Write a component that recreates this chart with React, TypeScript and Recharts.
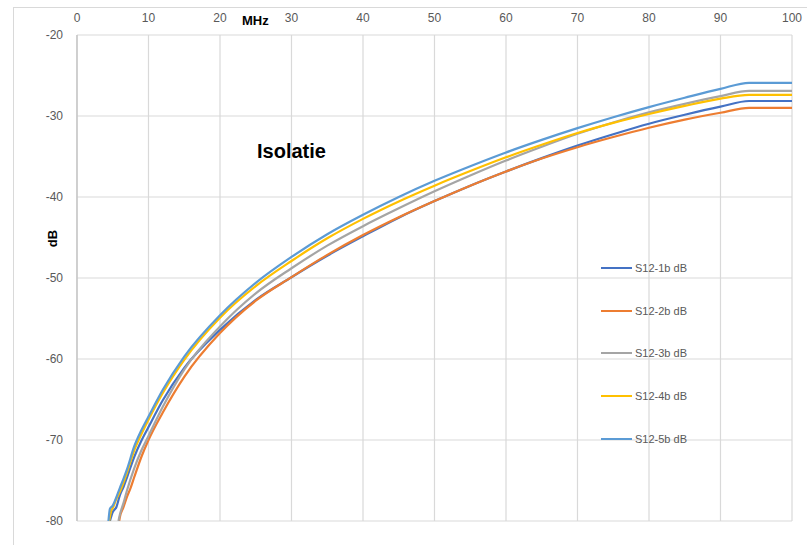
import React from "react";
import { LineChart, Line, XAxis, YAxis, CartesianGrid } from "recharts";

const xTicks = [0, 10, 20, 30, 40, 50, 60, 70, 80, 90, 100];
const yTicks = [-80, -70, -60, -50, -40, -30, -20];

const seriesNames = ["S12-1b dB", "S12-2b dB", "S12-3b dB", "S12-4b dB", "S12-5b dB"];
const seriesColors = ["#4472C4", "#ED7D31", "#A5A5A5", "#FFC000", "#5B9BD5"];

const s1Freq = [4.6, 5, 5.5, 6, 6.5, 7, 8, 9, 10, 12, 15, 20, 25, 30, 35, 40, 45, 50, 55, 60, 65, 70, 75, 80, 85, 90, 94, 100];
const s1Vals = [-80, -78.9, -78.3, -76.8, -75.8, -74.6, -72.1, -70.1, -68.4, -65.1, -61.1, -56.4, -52.7, -49.9, -47.25, -44.85, -42.55, -40.5, -38.6, -36.85, -35.2, -33.65, -32.25, -30.95, -29.85, -28.85, -28.15, -28.15];

const s2Freq = [5.9, 6, 6.5, 7, 7.5, 8, 9, 10, 12, 15, 20, 25, 30, 35, 40, 45, 50, 55, 60, 65, 70, 75, 80, 85, 90, 94, 100];
const s2Vals = [-80, -79.5, -78.3, -77, -75.9, -74.6, -72.1, -70, -66.6, -62.2, -56.8, -52.8, -49.9, -47.15, -44.7, -42.5, -40.5, -38.6, -36.85, -35.25, -33.85, -32.6, -31.45, -30.45, -29.6, -29, -29];

const s3Freq = [5.8, 6, 6.5, 7, 8, 9, 10, 12, 15, 20, 25, 30, 35, 40, 45, 50, 55, 60, 65, 70, 75, 80, 85, 90, 94, 100];
const s3Vals = [-80, -79.2, -77.8, -76.2, -73.5, -71.3, -69.5, -65.9, -61.3, -56, -51.9, -48.8, -46, -43.6, -41.4, -39.3, -37.35, -35.5, -33.8, -32.2, -30.8, -29.55, -28.5, -27.55, -26.9, -26.9];

const s4Freq = [4.5, 4.8, 5, 5.5, 6, 7, 8, 9, 10, 12, 15, 20, 25, 30, 35, 40, 45, 50, 55, 60, 65, 70, 75, 80, 85, 90, 94, 100];
const s4Vals = [-80, -78.7, -78.4, -77.3, -76.4, -74, -71.3, -69.3, -67.5, -64.2, -60.1, -54.9, -51, -47.9, -45.1, -42.7, -40.55, -38.6, -36.8, -35.1, -33.55, -32.1, -30.85, -29.75, -28.75, -27.85, -27.4, -27.4];

const s5Freq = [4.4, 4.6, 5, 5.4, 6, 6.5, 7, 8, 9, 10, 12, 15, 20, 25, 30, 35, 40, 45, 50, 55, 60, 65, 70, 75, 80, 85, 90, 94, 100];
const s5Vals = [-80, -78.5, -78.1, -77.3, -75.9, -74.8, -73.6, -70.8, -68.8, -67.1, -63.8, -59.7, -54.6, -50.6, -47.4, -44.6, -42.2, -40, -38, -36.2, -34.5, -32.95, -31.5, -30.15, -28.9, -27.75, -26.65, -25.9, -25.9];

const freqs = [s1Freq, s2Freq, s3Freq, s4Freq, s5Freq];
const vals = [s1Vals, s2Vals, s3Vals, s4Vals, s5Vals];

const seriesData = freqs.map((fs, i) => fs.map((f, j) => ({ f, v: vals[i][j] })));

const FONT = "'Liberation Sans', Arial, sans-serif";
const tickStyle = { fontSize: 12, fill: "#595959", fontFamily: FONT };

const LegendBox = () => (
  <div style={{ position: "absolute", left: 601, top: 262, width: 120, height: 200 }}>
    {seriesNames.map((n, i) => (
      <div
        key={n}
        style={{
          position: "absolute",
          left: 0,
          top: i * 42.7,
          display: "flex",
          alignItems: "center",
          height: 12,
        }}
      >
        <div style={{ width: 31, height: 2, background: seriesColors[i] }} />
        <span style={{ marginLeft: 3, fontSize: 11, color: "#595959", fontFamily: FONT, lineHeight: "12px", whiteSpace: "nowrap" }}>{n}</span>
      </div>
    ))}
  </div>
);

export default function App() {
  return (
    <div style={{ position: "absolute", left: 0, top: 0, width: 807, height: 545, background: "#fff", overflow: "hidden" }}>
      <div
        style={{
          position: "absolute",
          left: 13,
          top: 7,
          width: 900,
          height: 700,
          borderLeft: "1px solid #d9d9d9",
          borderTop: "1px solid #d9d9d9",
        }}
      />
      <div style={{ position: "absolute", left: 0, top: 0 }}>
        <LineChart width={807} height={545} margin={{ top: 10, right: 15, bottom: 24, left: 27 }}>
          <CartesianGrid stroke="#d9d9d9" strokeWidth={1.2} />
          <XAxis
            dataKey="f"
            type="number"
            orientation="top"
            domain={[0, 100]}
            ticks={xTicks}
            height={25}
            axisLine={false}
            tickLine={false}
            tickMargin={7}
            tick={tickStyle}
            allowDataOverflow
          />
          <YAxis
            type="number"
            domain={[-80, -20]}
            ticks={yTicks}
            width={50}
            axisLine={{ stroke: "#bfbfbf", strokeWidth: 1.2 }}
            tickLine={false}
            tickMargin={8}
            tick={tickStyle}
            allowDataOverflow
          />
          {seriesData.map((d, i) => (
            <Line
              key={seriesNames[i]}
              data={d}
              dataKey="v"
              name={seriesNames[i]}
              stroke={seriesColors[i]}
              strokeWidth={2.2}
              dot={false}
              activeDot={false}
              type="monotone"
              isAnimationActive={false}
            />
          ))}
        </LineChart>
      </div>
      <LegendBox />
      <svg width={807} height={545} style={{ position: "absolute", left: 0, top: 0, pointerEvents: "none" }}>
        <text x={257} y={158} fontSize={20} fontWeight="bold" fontFamily={FONT} fill="#000">
          Isolatie
        </text>
        <text x={242} y={25} fontSize={13} fontWeight="bold" fontFamily={FONT} fill="#000">
          MHz
        </text>
        <text
          x={57}
          y={238.5}
          fontSize={13}
          fontWeight="bold"
          fontFamily={FONT}
          fill="#000"
          textAnchor="middle"
          transform="rotate(-90, 57, 238.5)"
        >
          dB
        </text>
      </svg>
    </div>
  );
}
